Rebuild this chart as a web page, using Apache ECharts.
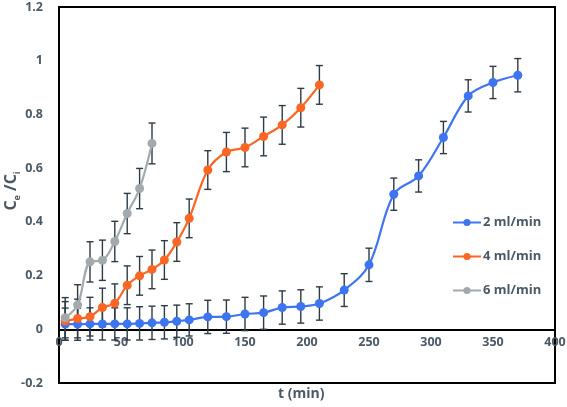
<!DOCTYPE html>
<html><head><meta charset="utf-8">
<script src="https://cdn.jsdelivr.net/npm/echarts@6/dist/echarts.min.js"></script>
<style>html,body{margin:0;padding:0;background:#fff}#c{width:567px;height:407px}</style>
</head><body><div id="c"></div>
<script>
// Data
const tBlue = [5,15,25,35,45,55,65,75,85,95,105,120,135,150,165,180,195,210,230,250,270,290,310,330,350,370];
const vBlue = [0.019,0.019,0.02,0.02,0.02,0.02,0.022,0.024,0.026,0.03,0.035,0.046,0.047,0.057,0.062,0.081,0.085,0.096,0.146,0.24,0.503,0.571,0.714,0.869,0.919,0.946];
const eBlue = [0.06,0.06,0.06,0.06,0.06,0.06,0.062,0.062,0.062,0.06,0.06,0.062,0.062,0.062,0.062,0.062,0.062,0.062,0.061,0.062,0.06,0.06,0.06,0.06,0.06,0.062];
const tOrange = [5,15,25,35,45,55,65,75,85,95,105,120,135,150,165,180,195,210];
const vOrange = [0.031,0.04,0.047,0.081,0.097,0.164,0.199,0.223,0.258,0.325,0.413,0.593,0.66,0.677,0.718,0.761,0.825,0.91];
const eOrange = [0.072,0.072,0.072,0.072,0.072,0.072,0.072,0.072,0.072,0.072,0.072,0.072,0.073,0.072,0.072,0.072,0.072,0.072];
const tGray = [5,15,25,35,45,55,65,75];
const vGray = [0.043,0.091,0.251,0.257,0.327,0.431,0.524,0.692];
const eGray = [0.075,0.075,0.075,0.075,0.075,0.075,0.075,0.076];
const seriesNames = ['2 ml/min','4 ml/min','6 ml/min'];
const yTicks = ['-0.2','0','0.2','0.4','0.6','0.8','1','1.2'];

const colors = ['#3d74f0','#fb6624','#a2aaad'];
const labelColor = '#4b5966';

const Y_MIN = -0.2, Y_MAX = 1.2;
const GRID = {left:59,right:12,top:7,bottom:24};
const plotH = 407 - GRID.top - GRID.bottom;
// shift x axis up so that it sits at y = 0 (labels follow it)
const xAxisOffset = -((0 - Y_MIN)/(Y_MAX - Y_MIN))*plotH;

function pts(t,v){return t.map((x,i)=>[x,v[i]]);}
function errs(t,v,e){return t.map((x,i)=>[x,v[i]-e[i],v[i]+e[i]]);}

function errSeries(data){
  return {
    type:'custom', silent:true, z:1,
    renderItem:function(params, api){
      const x=api.value(0), lo=api.value(1), hi=api.value(2);
      const p1=api.coord([x,lo]), p2=api.coord([x,hi]);
      const w=3.5;
      const st={stroke:'#2e3a44', lineWidth:1.4};
      return {type:'group', children:[
        {type:'line', shape:{x1:p1[0],y1:p1[1],x2:p2[0],y2:p2[1]}, style:st},
        {type:'line', shape:{x1:p1[0]-w,y1:p1[1],x2:p1[0]+w,y2:p1[1]}, style:st},
        {type:'line', shape:{x1:p2[0]-w,y1:p2[1],x2:p2[0]+w,y2:p2[1]}, style:st}
      ]};
    },
    encode:{x:0,y:[1,2]},
    data:data
  };
}

function lineSeries(name,data,color){
  return {
    name:name, type:'line', smooth:0.35, data:data, z:3,
    symbol:'circle', symbolSize:9,
    lineStyle:{color:color,width:2.2},
    itemStyle:{color:color},
    emphasis:{disabled:true}
  };
}

const chart = echarts.init(document.getElementById('c'), null, {renderer:'canvas'});
chart.setOption({
  animation:false,
  color:colors,
  grid:Object.assign({containLabel:false,outerBoundsMode:'none',show:true,borderColor:'#000',borderWidth:2,backgroundColor:'transparent'},GRID),
  xAxis:{
    type:'value', min:0, max:400, interval:50, position:'bottom', offset:xAxisOffset,
    axisLine:{onZero:false, lineStyle:{color:'#000',width:2}},
    axisTick:{show:false},
    splitLine:{show:false},
    axisLabel:{color:labelColor,fontFamily:'Open Sans',fontWeight:'bold',fontSize:12.5,margin:7}
  },
  yAxis:{
    type:'value', min:Y_MIN, max:Y_MAX, interval:0.2,
    axisLine:{show:true,lineStyle:{color:'#000',width:2}},
    axisTick:{show:false},
    splitLine:{show:false},
    axisLabel:{color:labelColor,fontFamily:'Open Sans',fontWeight:'bold',fontSize:12.5,margin:16,
      formatter:function(v){const r=Math.round(v*10)/10; const s=yTicks.find(k=>parseFloat(k)===r); return s!==undefined?s:String(r);}},
    name:'{b|C}{s|e}{b| /C}{s|i}',
    nameLocation:'middle', nameRotate:90, nameGap:37, nameMoveOverlap:false,
    nameTextStyle:{
      padding:[0,0,0,8],
      rich:{
        b:{fontFamily:'Open Sans',fontWeight:'bold',fontSize:16,color:labelColor,lineHeight:16,verticalAlign:'top'},
        s:{fontFamily:'Open Sans',fontWeight:'bold',fontSize:9,color:labelColor,lineHeight:19,verticalAlign:'bottom'}
      }
    }
  },
  legend:{
    data:seriesNames, orient:'vertical', left:447, top:211,
    itemWidth:28, itemHeight:9, itemGap:21,
    textStyle:{color:labelColor,fontFamily:'Open Sans',fontWeight:'bold',fontSize:13, padding:[0,0,0,-3]}
  },
  graphic:[{type:'text', left:278, top:387, style:{text:'t (min)', fill:labelColor, font:'bold 14px "Open Sans"'}}],
  series:[
    errSeries(errs(tBlue,vBlue,eBlue)),
    errSeries(errs(tOrange,vOrange,eOrange)),
    errSeries(errs(tGray,vGray,eGray)),
    lineSeries(seriesNames[0],pts(tBlue,vBlue),colors[0]),
    lineSeries(seriesNames[1],pts(tOrange,vOrange),colors[1]),
    lineSeries(seriesNames[2],pts(tGray,vGray),colors[2])
  ]
});
</script></body></html>
